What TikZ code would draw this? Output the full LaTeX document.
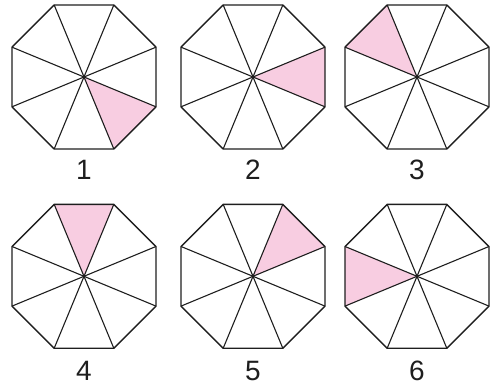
\documentclass[tikz,border=0pt]{standalone}
\usepackage{fontspec}
\setmainfont{Liberation Sans}
\definecolor{sectorpink}{RGB}{248,205,225}
\definecolor{edgeblack}{RGB}{30,30,30}

\begin{document}
\begin{tikzpicture}[x=1pt, y=1pt, line join=round,
  octa/.pic={
    \fill[sectorpink] (0,0) -- (#1:77.9) -- (#1+45:77.9) -- cycle;
    \draw[edgeblack, line width=1.4pt] (22.5:77.9) -- (67.5:77.9) -- (112.5:77.9) -- (157.5:77.9)
      -- (202.5:77.9) -- (247.5:77.9) -- (292.5:77.9) -- (337.5:77.9) -- cycle;
    \foreach \a in {22.5,67.5,...,337.5}
      \draw[edgeblack, line width=1.1pt] (0,0) -- (\a:77.9);
  },
  num/.style={font=\fontsize{28}{30}\selectfont, edgeblack}]
  \useasboundingbox (0,0) rectangle (496,387);
  % top row
  \pic (oct1) at (84,310) {octa=-67.5};
  \pic (oct2) at (253,310) {octa=-22.5};
  \pic (oct3) at (417,310) {octa=112.5};
  \node[num] (lab1) at (84,217) {1};
  \node[num] (lab2) at (253,217) {2};
  \node[num] (lab3) at (417,217) {3};
  % bottom row
  \pic (oct4) at (84,110.7) {octa=67.5};
  \pic (oct5) at (253,110.7) {octa=22.5};
  \pic (oct6) at (417,110.7) {octa=157.5};
  \node[num] (lab4) at (84,16.3) {4};
  \node[num] (lab5) at (253,16.3) {5};
  \node[num] (lab6) at (417,16.3) {6};
\end{tikzpicture}
\end{document}
